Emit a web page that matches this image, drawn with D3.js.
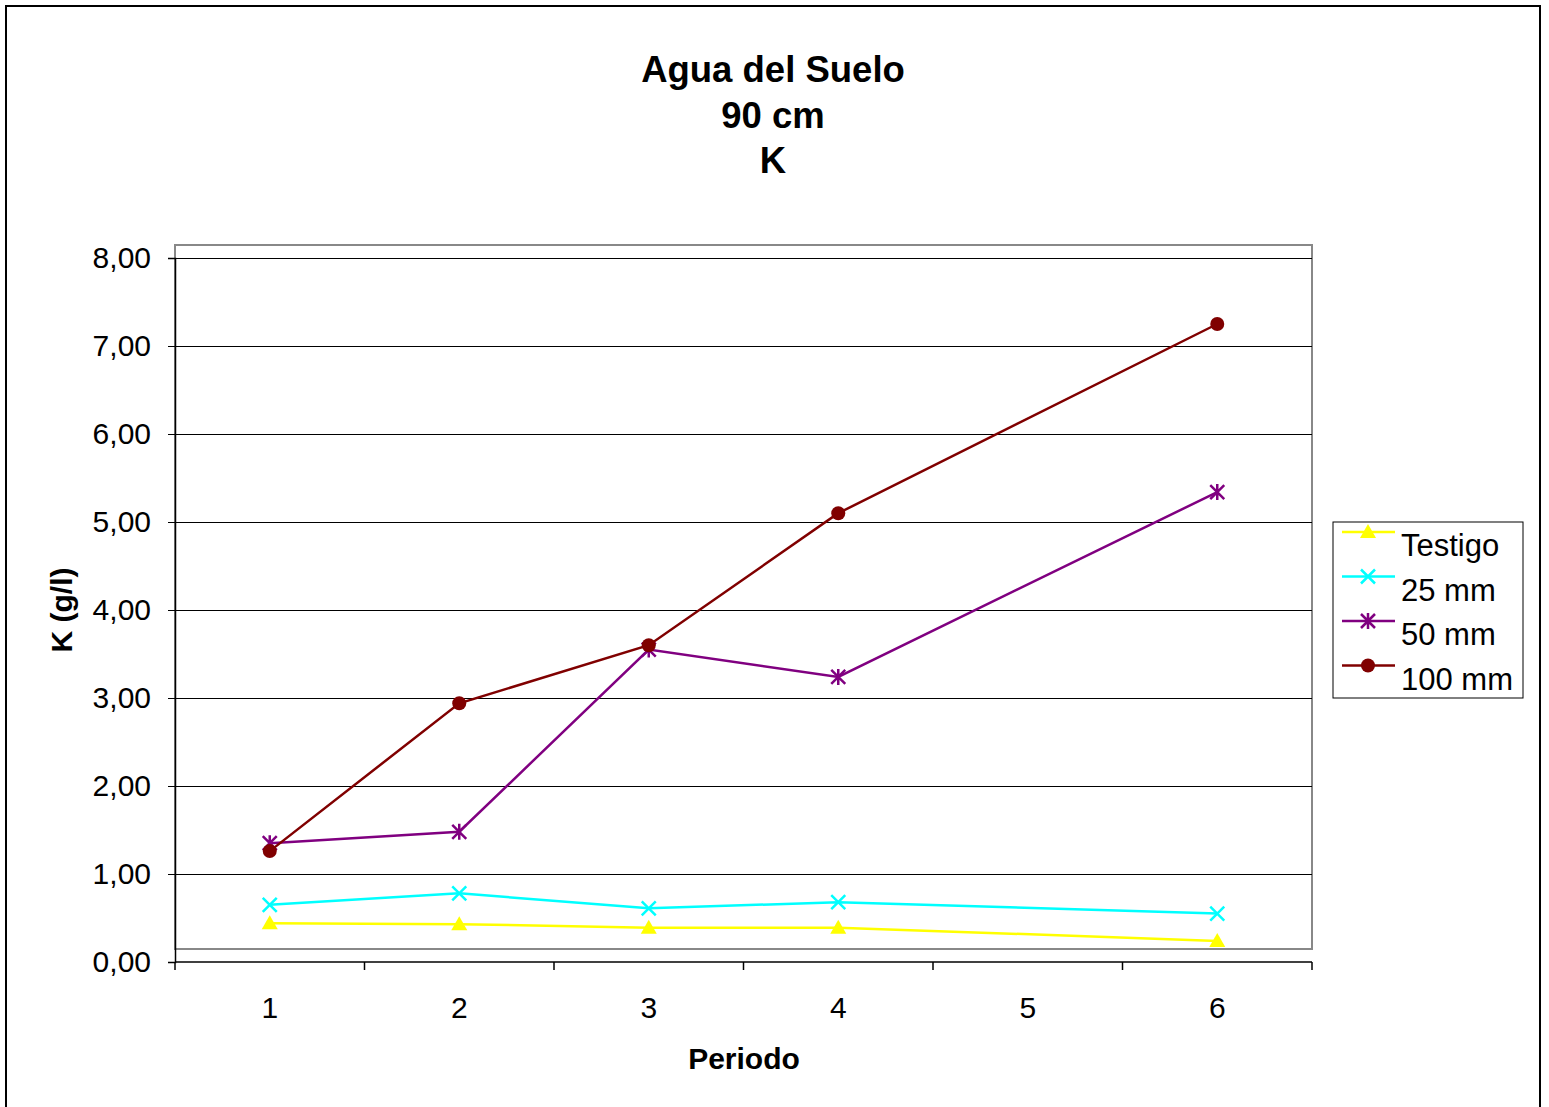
<!DOCTYPE html>
<html>
<head>
<meta charset="utf-8">
<script src="https://cdn.jsdelivr.net/npm/d3@7"></script>
<style>
  html, body { margin: 0; padding: 0; background: #fff; }
  svg { display: block; font-family: "Liberation Sans", Arial, sans-serif; }
</style>
</head>
<body>
<svg id="chart" width="1549" height="1107"></svg>
<script>
// Periods on the x axis
const periods = ["1", "2", "3", "4", "5", "6"];
// Y axis tick values (g/l)
const yTicks = [0, 1, 2, 3, 4, 5, 6, 7, 8];
// K concentration per treatment (null = no sample in that period)
const testigo = [0.44, 0.43, 0.39, 0.39, null, 0.24];
const mm25    = [0.65, 0.78, 0.61, 0.68, null, 0.55];
const mm50    = [1.35, 1.48, 3.55, 3.24, null, 5.34];
const mm100   = [1.26, 2.94, 3.60, 5.10, null, 7.25];
const seriesNames = ["Testigo", "25 mm", "50 mm", "100 mm"];

const series = [
  { name: seriesNames[0], values: testigo, color: "#ffff00", marker: "triangle" },
  { name: seriesNames[1], values: mm25,    color: "#00ffff", marker: "x" },
  { name: seriesNames[2], values: mm50,    color: "#800080", marker: "star" },
  { name: seriesNames[3], values: mm100,   color: "#800000", marker: "circle" }
];

const svg = d3.select("#chart");

// Outer chart frame
svg.append("rect").attr("x", 6).attr("y", 6).attr("width", 1534).attr("height", 1110)
  .attr("fill", "#fff").attr("stroke", "#000").attr("stroke-width", 2);

const plotL = 175, plotR = 1312, plotT = 258, plotB = 962;

const x = d3.scaleBand().domain(periods).range([plotL, plotR]).paddingInner(0).paddingOuter(0);
const y = d3.scaleLinear().domain([0, 8]).range([plotB, plotT]);

// Plot area border (grey)
svg.append("rect").attr("x", plotL).attr("y", plotT - 13).attr("width", plotR - plotL).attr("height", plotB - plotT)
  .attr("fill", "none").attr("stroke", "#888").attr("stroke-width", 2);

// Horizontal gridlines
svg.append("g").attr("shape-rendering", "crispEdges")
  .selectAll("line").data(yTicks.filter(d => d > 0)).join("line")
  .attr("x1", plotL).attr("x2", plotR)
  .attr("y1", d => y(d)).attr("y2", d => y(d))
  .attr("stroke", "#000").attr("stroke-width", 1);

// Y axis
const yAxis = svg.append("g").attr("transform", `translate(${plotL},0)`)
  .call(d3.axisLeft(y).tickValues(yTicks).tickSize(7).tickPadding(17)
    .tickFormat(d => d3.format(".2f")(d).replace(".", ",")));
yAxis.select(".domain").attr("stroke", "#000").attr("stroke-width", 1.5);
yAxis.selectAll(".tick line").attr("stroke", "#000");
yAxis.selectAll(".tick text").attr("font-size", 30).attr("fill", "#000")
  .attr("font-family", "Liberation Sans, Arial, sans-serif");

// X axis: ticks at category boundaries
const xAxisG = svg.append("g").attr("transform", `translate(0,${plotB})`);
xAxisG.append("line").attr("x1", plotL).attr("x2", plotR).attr("y1", 0).attr("y2", 0)
  .attr("stroke", "#000").attr("stroke-width", 1.5);
const boundaries = periods.map(p => x(p)).concat([x(periods[periods.length - 1]) + x.bandwidth()]);
xAxisG.selectAll("line.tk").data(boundaries).join("line").attr("class", "tk")
  .attr("x1", d => d).attr("x2", d => d).attr("y1", 0).attr("y2", 8)
  .attr("stroke", "#000").attr("stroke-width", 1.5);
xAxisG.selectAll("text").data(periods).join("text")
  .attr("x", d => x(d) + x.bandwidth() / 2).attr("y", 56)
  .attr("text-anchor", "middle").attr("font-size", 30).attr("fill", "#000")
  .text(d => d);

// Titles
const title = svg.append("text").attr("text-anchor", "middle").attr("font-weight", "bold")
  .attr("font-size", 36.5).attr("fill", "#000");
["Agua del Suelo", "90 cm", "K"].forEach((t, i) => {
  title.append("tspan").attr("x", 773).attr("y", 82 + i * 45.5).text(t);
});
svg.append("text").attr("x", 744).attr("y", 1069).attr("text-anchor", "middle")
  .attr("font-weight", "bold").attr("font-size", 30).text("Periodo");
svg.append("text").attr("transform", "translate(72,610) rotate(-90)").attr("text-anchor", "middle")
  .attr("font-weight", "bold").attr("font-size", 30).text("K (g/l)");

// Marker drawing
function drawMarker(g, type, color, cx, cy) {
  if (type === "triangle") {
    g.append("path").attr("d", `M${cx},${cy - 8}L${cx + 8},${cy + 6}L${cx - 8},${cy + 6}Z`).attr("fill", color);
  } else if (type === "x") {
    g.append("path").attr("d", `M${cx - 7},${cy - 7}L${cx + 7},${cy + 7}M${cx - 7},${cy + 7}L${cx + 7},${cy - 7}`)
      .attr("stroke", color).attr("stroke-width", 2.5);
  } else if (type === "star") {
    g.append("path").attr("d", `M${cx - 7},${cy - 7}L${cx + 7},${cy + 7}M${cx - 7},${cy + 7}L${cx + 7},${cy - 7}M${cx},${cy - 8}L${cx},${cy + 8}`)
      .attr("stroke", color).attr("stroke-width", 2.5);
  } else {
    g.append("circle").attr("cx", cx).attr("cy", cy).attr("r", 7).attr("fill", color);
  }
}

// Series lines and markers (gaps skipped, neighbouring points joined)
const line = d3.line().x(d => x(d.p) + x.bandwidth() / 2).y(d => y(d.v));
series.forEach(s => {
  const pts = s.values.map((v, i) => ({ p: periods[i], v })).filter(d => d.v !== null);
  const g = svg.append("g");
  g.append("path").datum(pts).attr("d", line).attr("fill", "none")
    .attr("stroke", s.color).attr("stroke-width", 2.5);
  pts.forEach(d => drawMarker(g, s.marker, s.color, x(d.p) + x.bandwidth() / 2, y(d.v)));
});

// Legend
const lg = svg.append("g");
lg.append("rect").attr("x", 1333).attr("y", 522).attr("width", 190).attr("height", 176)
  .attr("fill", "#fff").attr("stroke", "#000").attr("stroke-width", 1);
series.forEach((s, i) => {
  const cy = 532 + i * 44.5;
  lg.append("line").attr("x1", 1342).attr("x2", 1395).attr("y1", cy).attr("y2", cy)
    .attr("stroke", s.color).attr("stroke-width", 2.5);
  drawMarker(lg, s.marker, s.color, 1368, cy);
  lg.append("text").attr("x", 1401).attr("y", cy + 24).attr("font-size", 31).attr("fill", "#000").text(s.name);
});
</script>
</body>
</html>
